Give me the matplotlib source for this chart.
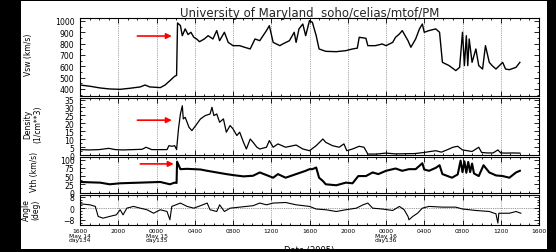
import numpy as np
import matplotlib.pyplot as plt
from matplotlib.patches import Rectangle
from matplotlib.ticker import MultipleLocator

W, H = 556, 253

# time axis: hours after 1600 UT on May 14 2005 (day 134)
vsw_hr = [0, 1.05, 2.1, 3.1, 4.2, 5.2, 6.3, 6.8, 7.3, 8.4,
          8.9, 9.4, 9.9, 10.1, 10.2, 10.5, 10.7, 11.0, 11.3, 11.6,
          11.9, 12.2, 12.5, 13.0, 13.4, 13.9, 14.3, 14.6, 15.1, 15.5,
          16.0, 16.7, 17.2, 17.8, 18.3, 18.8, 19.5, 19.8, 20.2, 20.9,
          21.2, 21.9, 22.4, 22.6, 22.9, 23.3, 23.6, 24.0, 24.3, 24.7,
          25.0, 25.7, 26.8, 27.8, 28.5, 29.0, 29.2, 29.9, 30.1, 30.9,
          31.6, 32.0, 32.7, 33.0, 33.4, 33.7, 33.9, 34.3, 34.6, 35.1,
          35.5, 35.8, 36.0, 36.5, 37.2, 37.6, 37.9, 38.6, 39.3, 39.7,
          40.0, 40.2, 40.4, 40.55, 40.7, 41.0, 41.4, 41.7, 42.1, 42.4,
          42.8, 43.1, 43.5, 44.2, 44.5, 44.9, 45.6, 46.0]
vsw = [435, 424, 409, 400, 397, 406, 418, 435, 418, 412,
       435, 473, 512, 520, 982, 959, 870, 930, 880, 900,
       856, 841, 817, 841, 870, 841, 915, 826, 900, 811,
       782, 782, 768, 753, 841, 826, 915, 958, 811, 782,
       797, 826, 900, 811, 930, 973, 870, 1003, 988, 870,
       753, 732, 729, 738, 753, 760, 856, 847, 782, 782,
       797, 782, 811, 856, 885, 915, 885, 826, 768, 841,
       930, 973, 900, 915, 930, 900, 635, 606, 562, 591,
       900, 606, 870, 606, 841, 635, 753, 606, 576, 782,
       635, 606, 576, 635, 576, 570, 591, 635]

dens_hr = [0, 1, 2, 3, 3.7, 4.5, 5.5, 6.5, 6.9, 7.5,
           8.5, 9.1, 9.3, 9.6, 9.9, 10.1, 10.3, 10.5, 10.7, 10.8,
           11.0, 11.4, 11.7, 12.1, 12.6, 13.1, 13.6, 13.8, 14.0, 14.3,
           14.6, 15.0, 15.3, 15.7, 16.0, 16.4, 16.7, 17.1, 17.4, 17.8,
           18.1, 18.5, 18.8, 19.5, 19.8, 20.2, 20.7, 21.5, 22.6, 23.3,
           24.0, 24.7, 25.4, 25.7, 26.4, 27.1, 27.6, 27.9, 28.5, 29.2,
           29.7, 30.1, 31.0, 32.0, 33.0, 34.0, 35.0, 36.0, 36.5, 37.2,
           37.8, 38.6, 39.0, 39.5, 40.0, 40.5, 41.0, 41.7, 42.0, 42.6,
           43.2, 43.7, 44.0, 44.6, 45.2, 46.0]
dens = [3.4, 3.2, 3.4, 4.2, 3.4, 3.2, 3.4, 3.6, 4.9, 3.4,
        3.4, 3.4, 5.9, 5.5, 5.9, 3.4, 16.5, 25.9, 31.1, 22.8,
        23.8, 17.5, 15.4, 18.6, 22.8, 24.9, 25.9, 30.1, 24.9, 25.9,
        20.7, 22.8, 14.4, 18.6, 16.5, 12.3, 14.4, 8.0, 3.8, 10.1,
        8.0, 4.9, 3.8, 4.9, 9.1, 4.9, 7.0, 4.9, 6.3, 3.8,
        2.7, 5.9, 10.1, 8.0, 5.9, 4.9, 7.0, 2.7, 3.8, 5.5,
        4.9, 0.6, 0.6, 1.2, 0.7, 0.8, 0.9, 1.6, 2.1, 2.7,
        1.8, 3.8, 4.9, 5.5, 3.2, 2.7, 2.2, 4.9, 1.6, 1.3,
        1.3, 3.2, 1.3, 1.2, 1.3, 1.2]

vth_hr = [0, 1, 2.1, 3.1, 4.2, 5.2, 6.3, 7.3, 8.4, 9.4,
          9.9, 10.1, 10.15, 10.5, 11.2, 12.6, 13.3, 14.3, 15.3, 16.0,
          17.1, 18.1, 18.8, 19.5, 20.2, 20.7, 21.5, 22.6, 23.6, 24.0,
          24.3, 24.7, 25.0, 25.4, 25.7, 26.8, 27.8, 28.5, 29.1, 29.9,
          30.6, 31.2, 32.0, 33.0, 33.7, 34.4, 35.1, 35.8, 36.0, 36.5,
          37.2, 37.6, 37.9, 38.9, 39.5, 39.8, 40.0, 40.2, 40.4, 40.6,
          40.8, 41.0, 41.2, 41.7, 42.2, 42.8, 43.5, 44.2, 44.9, 45.6,
          46.0]
vth = [32, 31, 30, 25, 28, 29, 30, 31, 32, 25,
       30, 29, 94, 71, 72, 70, 66, 61, 56, 53,
       49, 51, 61, 53, 45, 56, 45, 56, 66, 71,
       71, 76, 45, 35, 25, 22, 30, 28, 50, 50,
       61, 56, 66, 73, 66, 71, 71, 89, 70, 66,
       75, 83, 56, 45, 55, 97, 62, 95, 60, 93,
       62, 88, 58, 50, 83, 61, 52, 50, 45, 61,
       66]

ang_hr = [0, 1.05, 1.6, 1.9, 2.4, 3.1, 3.8, 4.2, 4.5, 4.9,
          5.6, 6.3, 7.0, 7.7, 8.4, 9.1, 9.4, 9.6, 10.5, 11.2,
          11.9, 12.6, 13.3, 13.6, 14.3, 14.6, 15.1, 15.7, 16.7, 18.1,
          18.8, 19.5, 20.2, 21.5, 22.6, 24.0, 24.7, 25.7, 26.8, 27.8,
          28.9, 29.6, 30.1, 30.6, 31.6, 32.7, 33.4, 33.9, 34.3, 34.4,
          34.8, 35.3, 35.8, 36.5, 37.9, 39.3, 40.0, 41.4, 42.8, 43.5,
          43.7, 43.8, 44.9, 45.6, 46.1]
ang = [3.1, 2.4, 1.3, -5.6, -6.8, -5.6, -4.5, -1.0, -4.5, 0.1,
       1.3, 0.1, -1.0, -3.4, -1.0, -2.2, -7.9, 1.3, 3.6, 1.3,
       0.1, 1.8, 3.6, -1.0, -2.2, 2.4, -2.2, 0.1, 0.8, 1.8,
       3.6, 2.4, 3.6, 4.0, 2.4, 1.3, -0.5, -1.0, -2.2, -1.0,
       0.1, 2.4, 3.6, 0.1, -0.5, -1.5, 1.3, -1.0, -5.6, -7.9,
       -5.6, -3.4, 0.1, 1.3, 0.8, 0.8, -0.5, -1.5, -2.2, -3.8,
       -10.2, -3.4, -3.4, -2.2, -3.4]

xtick_hr = [0, 4, 8, 12, 16, 20, 24, 28, 32, 36, 40, 44, 48]
xtick_lab = ['1600\nMay 14\nday134', '2000', '0000\nMay 15\nday135', '0400',
             '0800', '1200', '1600', '2000', '0000\nMay 16\nday136', '0400',
             '0800', '1200', '1600']


def px_axes(fig, top, bottom, left=80, right=539):
    return fig.add_axes([left / W, 1 - bottom / H, (right - left) / W, (bottom - top) / H])


def style_panel(ax, ylim, yminor, yticks):
    ax.set_xlim(0, 48)
    ax.set_ylim(*ylim)
    ax.set_xticks(xtick_hr)
    ax.xaxis.set_minor_locator(MultipleLocator(1))
    ax.set_yticks(yticks)
    ax.yaxis.set_minor_locator(MultipleLocator(yminor))
    ax.tick_params(which='both', direction='in', top=True, right=True,
                   width=0.6, labelsize=5.6, pad=4)
    ax.tick_params(which='major', length=3.5)
    ax.tick_params(which='minor', length=1.6)
    for s in ax.spines.values():
        s.set_linewidth(0.8)
    # dotted lines at the interior time ticks
    for h in xtick_hr[1:-1]:
        ax.axvline(h, color='0.55', lw=0.6, ls=(0, (1, 1.2)), zorder=0)


fig = plt.figure(figsize=(W / 100, H / 100), dpi=100, facecolor='white')

ax1 = px_axes(fig, 19, 97)
ax2 = px_axes(fig, 99, 156)
ax3 = px_axes(fig, 158, 193.5)
ax4 = px_axes(fig, 195.5, 226)

ax1.plot(vsw_hr, vsw, color='black', lw=1.0)
style_panel(ax1, (338, 1026), 50, range(400, 1001, 100))

ax2.plot(dens_hr, dens, color='black', lw=0.9)
style_panel(ax2, (0, 36), 2.5, range(0, 36, 5))

ax3.plot(vth_hr, vth, color='black', lw=1.5)
style_panel(ax3, (0, 108), 12.5, range(0, 101, 25))

ax4.plot(ang_hr, ang, color='black', lw=0.8)
style_panel(ax4, (-11.5, 9.5), 2, [-8, 0, 8])
ax4.axhline(0, color='0.45', lw=0.6, ls=(0, (1, 1.2)), zorder=0)

for ax in (ax1, ax2, ax3):
    ax.set_xticklabels([])
ax4.set_xticklabels(xtick_lab, fontsize=4.3, linespacing=0.8)
ax4.tick_params(axis='x', pad=2.5)

# red arrows marking the shock arrival
arrow = dict(arrowstyle='-|>', color='red', lw=1.2, mutation_scale=8, shrinkA=0, shrinkB=0)
ax1.annotate('', xy=(9.6, 867), xytext=(6.0, 867), arrowprops=arrow)
ax2.annotate('', xy=(9.6, 22), xytext=(6.0, 22), arrowprops=arrow)
ax3.annotate('', xy=(9.8, 87), xytext=(6.3, 87), arrowprops=arrow)

# labels
fig.text(309.5 / W, 1 - 13 / H, 'University of Maryland  soho/celias/mtof/PM',
         ha='center', va='center', fontsize=8.5, color='0.15')
fig.text(29 / W, 1 - 55 / H, 'Vsw (km/s)', rotation=90, ha='center', va='center', fontsize=5.5)
fig.text(33 / W, 1 - 124 / H, 'Density\n(1/cm**3)', rotation=90, ha='center', va='center',
         fontsize=5.5, linespacing=1.1)
fig.text(35 / W, 1 - 172 / H, 'Vth (km/s)', rotation=90, ha='center', va='center', fontsize=5.5)
fig.text(31 / W, 1 - 210 / H, 'Angle\n(deg)', rotation=90, ha='center', va='center',
         fontsize=5.5, linespacing=1.1)
fig.text(309.5 / W, 1 - 246.5 / H, 'Date (2005)', ha='center', va='top', fontsize=6)

# black frame round the white page
for x0, y0, w, h in [(0, 0, 21, H), (547, 0, W - 547, H), (0, 0, W, 2), (0, 250, W, H - 250)]:
    fig.add_artist(Rectangle((x0 / W, 1 - (y0 + h) / H), w / W, h / H,
                             transform=fig.transFigure, facecolor='black',
                             edgecolor='none', zorder=10))

fig.savefig('out.png', dpi=100, facecolor='white')
